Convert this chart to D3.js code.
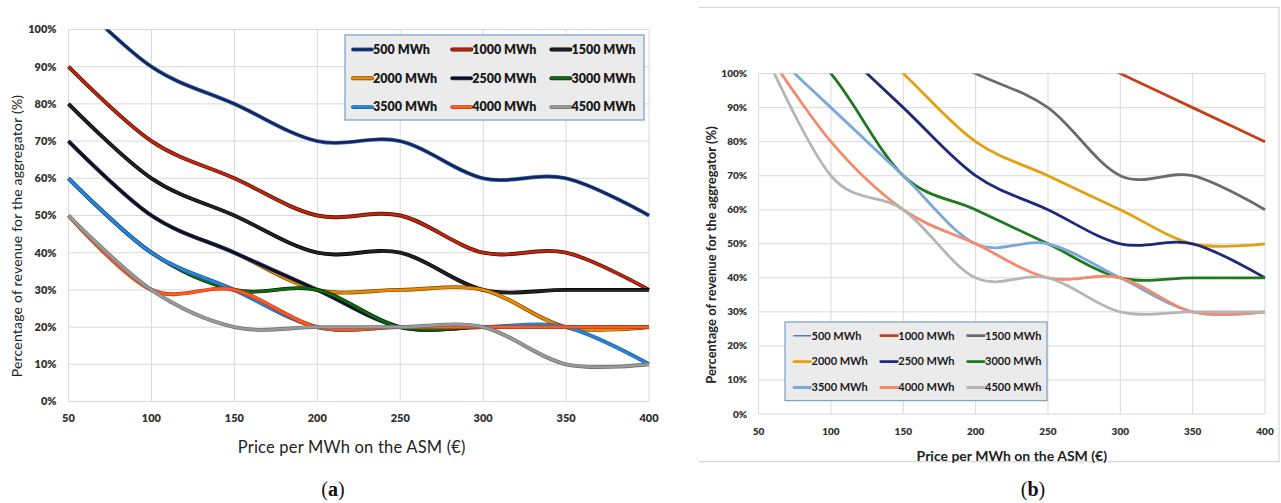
<!DOCTYPE html>
<head>
  <meta charset="utf-8">
  <style>
    body { margin: 0; background: #fff; }
    svg text { font-family: Lato, "Open Sans", sans-serif; }
  </style>
  <script src="https://cdn.jsdelivr.net/npm/d3@7"></script>
</head>
<body>
<svg id=chart width="1281" height="503"></svg>

<script>
// price per MWh on the ASM (x axis)
const prices = [50, 100, 150, 200, 250, 300, 350, 400]
const pctTicks = [0, 10, 20, 30, 40, 50, 60, 70, 80, 90, 100]
const seriesLabels = ['500 MWh', '1000 MWh', '1500 MWh', '2000 MWh', '2500 MWh',
  '3000 MWh', '3500 MWh', '4000 MWh', '4500 MWh']

// panel (a): % of revenue for the aggregator, one row per series
const valuesA = [
  [110, 90, 80, 70, 70, 60, 60, 50],
  [90, 70, 60, 50, 50, 40, 40, 30],
  [80, 60, 50, 40, 40, 30, 30, 30],
  [70, 50, 40, 30, 30, 30, 20, 20],
  [70, 50, 40, 30, 20, 20, 20, 20],
  [60, 40, 30, 30, 20, 20, 20, 20],
  [60, 40, 30, 20, 20, 20, 20, 10],
  [50, 30, 30, 20, 20, 20, 20, 20],
  [50, 30, 20, 20, 20, 20, 10, 10],
]
// panel (b)
const valuesB = [
  [180, 160, 150, 140, 140, 130, 130, 120],
  [160, 140, 130, 120, 110, 100, 90, 80],
  [140, 120, 110, 100, 90, 70, 70, 60],
  [140, 120, 100, 80, 70, 60, 50, 50],
  [130, 110, 90, 70, 60, 50, 50, 40],
  [120, 100, 70, 60, 50, 40, 40, 40],
  [110, 90, 70, 50, 50, 40, 30, 30],
  [110, 80, 60, 50, 40, 40, 30, 30],
  [110, 70, 60, 40, 40, 30, 30, 30],
]

const colorsA = ['#15245a', '#c0260e', '#222222', '#ee8a00', '#0d0d22', '#0f6a14', '#2a86d4', '#ff5a26', '#9a9a9a']
const edgesA = ['#3567b0', '#4a1006', '#000000', '#7a4800', '#2c3a6a', '#072907', '#1c5ea4', '#c23a10', '#6e6e6e']
const colorsB = ['#4a80c2', '#c63e16', '#6b6b6b', '#e3a00f', '#1c2a7a', '#1f7a1f', '#7aa8da', '#f4896b', '#b5b5b5']

const svg = d3.select('#chart')

function drawPanel(o) {
  const g = svg.append('g')
  const x = d3.scaleLinear().domain([50, 400]).range([o.left, o.right])
  const y = d3.scaleLinear().domain([0, 100]).range([o.bottom, o.top])

  // grid
  g.append('g').selectAll('line').data(pctTicks).join('line')
    .attr('x1', o.left).attr('x2', o.right)
    .attr('y1', d => y(d)).attr('y2', d => y(d))
    .attr('stroke', '#d9d9d9').attr('stroke-width', 1)
  g.append('g').selectAll('line').data(prices).join('line')
    .attr('x1', d => x(d)).attr('x2', d => x(d))
    .attr('y1', o.top).attr('y2', o.bottom)
    .attr('stroke', '#d9d9d9').attr('stroke-width', 1)

  // tick labels
  g.append('g').selectAll('text').data(pctTicks).join('text')
    .attr('x', o.left - o.yLabelGap).attr('y', d => y(d))
    .attr('dy', '0.35em').attr('text-anchor', 'end')
    .attr('font-size', o.tickSize).attr('font-weight', 800).attr('fill', '#333')
    .text(d => d + '%')
  g.append('g').selectAll('text').data(prices).join('text')
    .attr('x', d => x(d)).attr('y', o.bottom + o.xLabelGap)
    .attr('dy', '0.35em').attr('text-anchor', 'middle')
    .attr('font-size', o.tickSize).attr('font-weight', 800).attr('fill', '#333')
    .text(d => d)

  // titles
  g.append('text')
    .attr('x', (o.left + o.right) / 2 + o.xTitleShift).attr('y', o.xTitleY)
    .attr('dy', '0.35em').attr('text-anchor', 'middle')
    .attr('font-size', o.titleSize).attr('font-weight', o.titleWeight).attr('fill', '#222')
    .attr('letter-spacing', o.xTitleSpacing)
    .text('Price per MWh on the ASM (€)')
  g.append('text')
    .attr('transform', `translate(${o.yTitleX},${o.yTitleY}) rotate(-90)`)
    .attr('dy', '0.35em').attr('text-anchor', 'middle')
    .attr('font-size', o.yTitleSize).attr('font-weight', o.titleWeight).attr('fill', '#222')
    .attr('letter-spacing', o.yTitleSpacing)
    .text('Percentage of revenue for the aggregator (%)')

  // lines
  const clipId = 'clip-' + o.id
  svg.append('clipPath').attr('id', clipId).append('rect')
    .attr('x', o.left - 3).attr('y', o.top).attr('width', o.right - o.left + 6).attr('height', o.bottom - o.top + 3)
  const line = d3.line()
    .x((d, i) => x(prices[i])).y(d => y(d))
    .curve(d3.curveCardinal.tension(0))
  const lines = g.append('g').attr('clip-path', `url(#${clipId})`)
  o.values.forEach((vals, i) => {
    if (o.edges) {
      lines.append('path').attr('d', line(vals)).attr('fill', 'none')
        .attr('stroke', o.edges[i]).attr('stroke-width', o.lineWidth + 1.4)
    }
    lines.append('path').attr('d', line(vals)).attr('fill', 'none')
      .attr('stroke', o.colors[i]).attr('stroke-width', i === 0 && o.thinFirst ? 1.6 : o.lineWidth)
  })

  // legend
  const L = o.legend
  g.append('rect').attr('x', L.x).attr('y', L.y).attr('width', L.w).attr('height', L.h)
    .attr('fill', '#ebebeb').attr('stroke', '#7ea6cf').attr('stroke-width', 1.3)
  seriesLabels.forEach((s, i) => {
    const cx = L.x0 + (i % 3) * L.colStep
    const cy = L.y0 + Math.floor(i / 3) * L.rowStep
    if (o.edges) {
      g.append('line').attr('x1', cx).attr('x2', cx + L.len).attr('y1', cy).attr('y2', cy)
        .attr('stroke', o.edges[i]).attr('stroke-width', o.lineWidth + 1.4).attr('stroke-linecap', 'round')
    }
    g.append('line').attr('x1', cx).attr('x2', cx + L.len).attr('y1', cy).attr('y2', cy)
      .attr('stroke', o.colors[i]).attr('stroke-width', i === 0 && o.thinFirst ? 1.6 : o.lineWidth)
      .attr('stroke-linecap', 'round')
    g.append('text').attr('x', cx + L.len + 1).attr('y', cy).attr('dy', '0.35em')
      .attr('font-size', L.size).attr('font-weight', L.weight).attr('fill', '#1a1a1a')
      .text(s)
  })
}

drawPanel({
  id: 'a', left: 68.5, right: 649, top: 29.5, bottom: 401.5,
  values: valuesA, colors: colorsA, edges: edgesA, lineWidth: 2.5,
  tickSize: 11, yLabelGap: 12, xLabelGap: 17,
  titleSize: 16.5, titleWeight: 400, xTitleY: 447, xTitleShift: -7, xTitleSpacing: 0.2,
  yTitleX: 17, yTitleY: 236, yTitleSize: 14, yTitleSpacing: 0.2,
  legend: { x: 345, y: 35, w: 299, h: 85, x0: 353, y0: 49.5, colStep: 99.2, rowStep: 28.8, len: 19, size: 12.5, weight: 800 },
})

// frame around panel (b)
svg.append('path').attr('d', 'M699,7.5H1279V461.7H699')
  .attr('fill', 'none').attr('stroke', '#d6d6d6').attr('stroke-width', 1.2)

drawPanel({
  id: 'b', left: 758.6, right: 1265, top: 73.6, bottom: 414,
  values: valuesB, colors: colorsB, edges: null, lineWidth: 2.8, thinFirst: true,
  tickSize: 10, yLabelGap: 11.5, xLabelGap: 17,
  titleSize: 14, titleWeight: 700, xTitleY: 456, xTitleShift: 0, xTitleSpacing: 0,
  yTitleX: 711, yTitleY: 255, yTitleSize: 13, yTitleSpacing: 0,
  legend: { x: 785, y: 322, w: 262, h: 78.6, x0: 794, y0: 335.7, colStep: 86.8, rowStep: 25.9, len: 16.5, size: 11, weight: 700 },
})

// sub-figure captions
const caps = [['a', 333], ['b', 1033]]
caps.forEach(([c, cx]) => {
  const t = svg.append('text').attr('x', cx).attr('y', 489).attr('dy', '0.35em')
    .attr('text-anchor', 'middle').attr('font-size', 20)
    .style('font-family', '"Liberation Serif", "DejaVu Serif", serif').attr('fill', '#111')
  t.append('tspan').text('(')
  t.append('tspan').attr('font-weight', 700).text(c)
  t.append('tspan').text(')')
})
</script>
</body>
